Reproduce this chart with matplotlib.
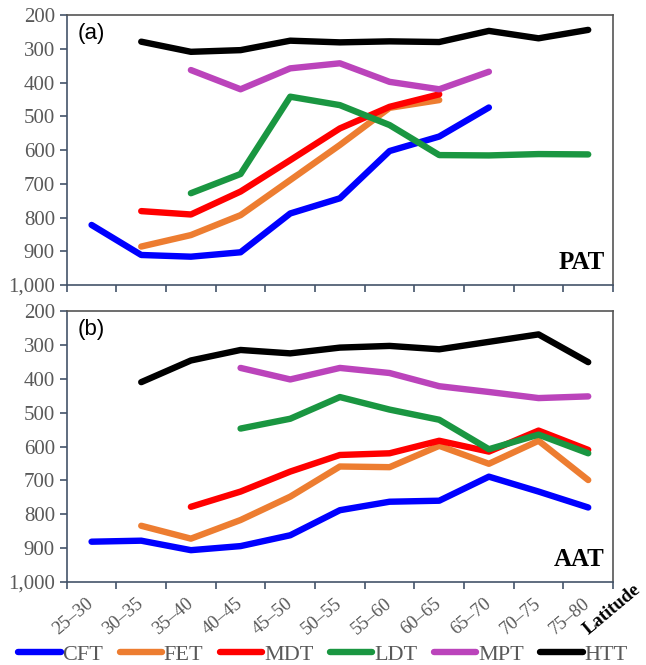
import numpy as np
import matplotlib
matplotlib.use("Agg")
from matplotlib import pyplot as plt

plt.rcParams["font.family"] = ["Liberation Serif", "DejaVu Serif"]

# latitude bands
bands = ["25–30", "30–35", "35–40", "40–45", "45–50", "50–55",
         "55–60", "60–65", "65–70", "70–75", "75–80"]
series = ["CFT", "FET", "MDT", "LDT", "MPT", "HTT"]
colors = ["#0000FF", "#ED7D31", "#FF0000", "#1A9641", "#BB44BB", "#000000"]

N = None
# (a) PAT
pat_cft = [822, 911, 916, 903, 788, 743, 603, 560, 474, N, N]
pat_fet = [N, 886, 852, 793, 689, 585, 475, 452, N, N, N]
pat_mdt = [N, 781, 791, 723, 630, 536, 472, 435, N, N, N]
pat_ldt = [N, N, 728, 671, 442, 467, 526, 615, 616, 612, 613]
pat_mpt = [N, N, 363, 420, 358, 343, 398, 420, 368, N, N]
pat_htt = [N, 279, 309, 304, 276, 281, 278, 280, 247, 269, 244]

# (b) AAT
aat_cft = [881, 878, 906, 894, 862, 788, 763, 760, 689, 733, 780]
aat_fet = [N, 834, 872, 817, 748, 659, 661, 598, 651, 583, 699]
aat_mdt = [N, N, 778, 733, 674, 625, 620, 583, 615, 553, 610]
aat_ldt = [N, N, N, 547, 518, 454, 491, 521, 608, 565, 620]
aat_mpt = [N, N, N, 368, 402, 368, 383, 422, 439, 457, 452]
aat_htt = [N, 410, 346, 315, 325, 308, 303, 313, 291, 269, 351]

pat = [pat_cft, pat_fet, pat_mdt, pat_ldt, pat_mpt, pat_htt]
aat = [aat_cft, aat_fet, aat_mdt, aat_ldt, aat_mpt, aat_htt]

tick_col = "#595959"
spine_col = "#44546A"

fig = plt.figure(figsize=(6.46, 6.65), dpi=100)
ax1 = fig.add_axes([0.1033, 0.5714, 0.8457, 0.406])
ax2 = fig.add_axes([0.1033, 0.1248, 0.8457, 0.4075])

x = np.arange(len(bands))

def draw(ax, data, tag, name, show_labels):
    lines = []
    for vals, c, lab in zip(data, colors, series):
        y = np.array([np.nan if v is None else v for v in vals], dtype=float)
        l, = ax.plot(x, y, color=c, lw=4.6, solid_capstyle="round",
                     solid_joinstyle="round", label=lab)
        lines.append(l)
    ax.set_xlim(-0.5, len(bands) - 0.5)
    ax.set_ylim(1000, 200)
    ax.set_yticks(range(200, 1001, 100))
    ax.set_yticklabels([f"{v:,}" for v in range(200, 1001, 100)])
    ax.set_xticks(np.arange(len(bands) + 1) - 0.5)
    ax.set_xticklabels([])
    ax.set_xticks(x, minor=True)
    ax.tick_params(axis="x", which="minor", length=0)
    ax.tick_params(axis="both", which="major", direction="out", length=5,
                   width=1.2, color=spine_col, labelsize=15,
                   labelcolor=tick_col)
    if show_labels:
        ax.set_xticklabels(bands, minor=True, rotation=40, ha="right",
                           va="center", rotation_mode="anchor")
        ax.tick_params(axis="x", which="minor", pad=14, labelsize=13.5,
                       labelcolor=tick_col)
    for s in ax.spines.values():
        s.set_color("#555555")
        s.set_linewidth(1.2)
    ax.spines["bottom"].set_color(spine_col)
    ax.spines["left"].set_color(spine_col)
    ax.text(0.02, 0.97, tag, transform=ax.transAxes, fontsize=16,
            fontfamily="Liberation Sans", va="top", ha="left")
    ax.text(0.985, 0.04, name, transform=ax.transAxes, fontsize=18,
            fontweight="bold", va="bottom", ha="right")
    return lines

draw(ax1, pat, "(a)", "PAT", False)
lines = draw(ax2, aat, "(b)", "AAT", True)

fig.text(0.948, 0.083, "Latitude", rotation=40, fontsize=13.5,
         fontweight="bold", ha="center", va="center")

fig.legend(lines, series, loc="lower center", bbox_to_anchor=(0.5, -0.02),
           ncol=6, frameon=False, handlelength=1.9, handletextpad=0.08,
           columnspacing=0.75, prop={"size": 16}, labelcolor=tick_col,
           borderaxespad=0.2)

fig.savefig("out.png", dpi=100)
